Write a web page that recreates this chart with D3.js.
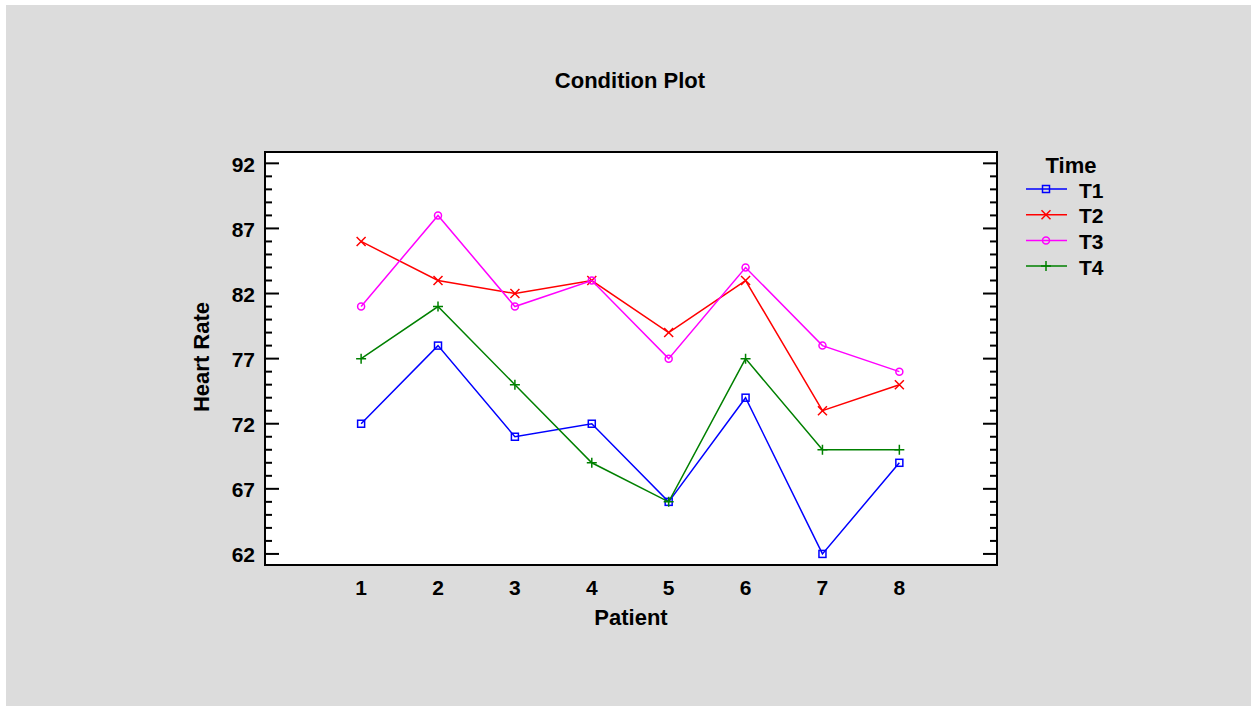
<!DOCTYPE html>
<html>
<head>
<meta charset="utf-8">
<script src="https://cdn.jsdelivr.net/npm/d3@7"></script>
<style>
  body { margin: 0; background: #fff; }
  text { font-family: "Liberation Sans", Arial, sans-serif; font-weight: bold; fill: #000; }
</style>
</head>
<body>
<div id="graphic"></div>
<script>
// values
const patients = [1, 2, 3, 4, 5, 6, 7, 8];
const seriesNames = ['T1', 'T2', 'T3', 'T4'];
const t1 = [72, 78, 71, 72, 66, 74, 62, 69];
const t2 = [86, 83, 82, 83, 79, 83, 73, 75];
const t3 = [81, 88, 81, 83, 77, 84, 78, 76];
const t4 = [77, 81, 75, 69, 66, 77, 70, 70];
const yTicks = [62, 67, 72, 77, 82, 87, 92];
const colors = ['#0000ff', '#ff0000', '#ff00ff', '#008000'];
const markers = ['square', 'cross', 'circle', 'plus'];

(function () {
  var width = 1251, height = 706;
  var plot = {left: 265, right: 997, top: 152, bottom: 565};

  var svg = d3.select('#graphic').append('svg')
    .attr('width', width)
    .attr('height', height);

  // grey panel
  svg.append('rect')
    .attr('x', 6).attr('y', 5)
    .attr('width', width - 6).attr('height', height - 5)
    .attr('fill', '#dcdcdc');

  var x = d3.scaleLinear().domain([-0.25, 9.27]).range([plot.left, plot.right]);
  var y = d3.scaleLinear().domain([61.15, 92.87]).range([plot.bottom, plot.top]);

  svg.append('rect')
    .attr('x', plot.left).attr('y', plot.top)
    .attr('width', plot.right - plot.left).attr('height', plot.bottom - plot.top)
    .attr('fill', '#fff');

  // inward ticks left + right, major every 5, minor every 1
  var minor = d3.range(62, 93);
  var ticks = svg.append('g');
  minor.forEach(v => {
    var len = yTicks.includes(v) ? 14 : 7;
    ticks.append('line')
      .attr('x1', plot.left).attr('x2', plot.left + len)
      .attr('y1', y(v)).attr('y2', y(v))
      .attr('stroke', '#000').attr('stroke-width', 2);
    ticks.append('line')
      .attr('x1', plot.right).attr('x2', plot.right - len)
      .attr('y1', y(v)).attr('y2', y(v))
      .attr('stroke', '#000').attr('stroke-width', 2);
  });

  svg.append('g').selectAll('text')
    .data(yTicks).enter().append('text')
    .attr('x', plot.left - 10)
    .attr('y', d => y(d) + 8.5)
    .attr('text-anchor', 'end')
    .style('font-size', '21px')
    .text(d => d);

  svg.append('g').selectAll('text')
    .data(patients).enter().append('text')
    .attr('x', d => x(d))
    .attr('y', 595)
    .attr('text-anchor', 'middle')
    .style('font-size', '21px')
    .text(d => d);

  svg.append('rect')
    .attr('x', plot.left).attr('y', plot.top)
    .attr('width', plot.right - plot.left).attr('height', plot.bottom - plot.top)
    .attr('fill', 'none').attr('stroke', '#000').attr('stroke-width', 2);

  // titles
  svg.append('text').attr('x', 630).attr('y', 88)
    .attr('text-anchor', 'middle').style('font-size', '22px').text('Condition Plot');
  svg.append('text').attr('x', 631).attr('y', 625)
    .attr('text-anchor', 'middle').style('font-size', '22px').text('Patient');
  svg.append('text')
    .attr('transform', 'translate(209,357) rotate(-90)')
    .attr('text-anchor', 'middle').style('font-size', '22px').text('Heart Rate');

  function drawMarker(g, type, cx, cy, color) {
    if (type == 'square') {
      g.append('rect').attr('x', cx - 3.5).attr('y', cy - 3.5)
        .attr('width', 7).attr('height', 7)
        .attr('fill', 'none').attr('stroke', color).attr('stroke-width', 1.5);
    } else if (type == 'circle') {
      g.append('circle').attr('cx', cx).attr('cy', cy).attr('r', 3.5)
        .attr('fill', 'none').attr('stroke', color).attr('stroke-width', 1.5);
    } else if (type == 'cross') {
      g.append('path')
        .attr('d', `M${cx-4.5},${cy-4.5}L${cx+4.5},${cy+4.5}M${cx-4.5},${cy+4.5}L${cx+4.5},${cy-4.5}`)
        .attr('stroke', color).attr('stroke-width', 1.5);
    } else {
      g.append('path')
        .attr('d', `M${cx-5},${cy}L${cx+5},${cy}M${cx},${cy-5}L${cx},${cy+5}`)
        .attr('stroke', color).attr('stroke-width', 1.5);
    }
  }

  var line = d3.line().x((d, i) => x(patients[i])).y(d => y(d));
  var allSeries = [t1, t2, t3, t4];

  allSeries.forEach((vals, k) => {
    var g = svg.append('g');
    g.append('path').datum(vals)
      .attr('d', line)
      .attr('fill', 'none')
      .attr('stroke', colors[k])
      .attr('stroke-width', 1.5);
    vals.forEach((v, i) => drawMarker(g, markers[k], x(patients[i]), y(v), colors[k]));
  });

  // legend
  var lg = svg.append('g');
  lg.append('text').attr('x', 1071).attr('y', 173)
    .attr('text-anchor', 'middle').style('font-size', '22px').text('Time');
  seriesNames.forEach((name, k) => {
    var ly = 189 + k * 25.7;
    lg.append('line').attr('x1', 1026).attr('x2', 1067)
      .attr('y1', ly).attr('y2', ly)
      .attr('stroke', colors[k]).attr('stroke-width', 1.5);
    drawMarker(lg, markers[k], 1046, ly, colors[k]);
    lg.append('text').attr('x', 1079).attr('y', ly + 8.5)
      .style('font-size', '21px').text(name);
  });
})();
</script>
</body>
</html>
